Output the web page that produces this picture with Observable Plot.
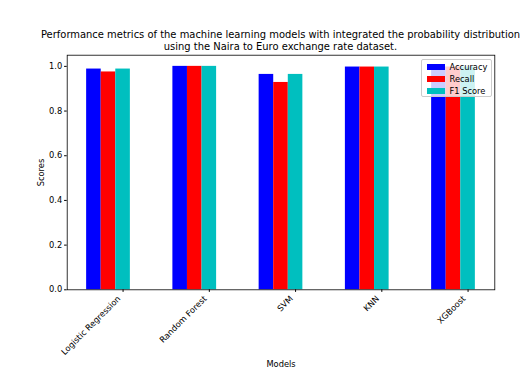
<!DOCTYPE html>
<html><head><meta charset="utf-8">
<script src="https://cdn.jsdelivr.net/npm/d3@7"></script>
<script src="https://cdn.jsdelivr.net/npm/@observablehq/plot@0.6"></script>
<style>
body{margin:0;background:#fff;font-family:"DejaVu Sans",sans-serif;}
#wrap{position:relative;width:529px;height:377px;overflow:hidden;}
#title{position:absolute;z-index:2;left:280.5px;top:28.5px;transform:translateX(-50%);text-align:center;white-space:nowrap;font-size:9.95px;line-height:12.2px;color:#000;}
#legend{position:absolute;z-index:3;left:421px;top:59px;width:71px;height:38px;background:rgba(255,255,255,0.8);border:0.8px solid #cccccc;border-radius:2px;box-sizing:border-box;font-size:8.3px;color:#000;}
.row{position:absolute;left:5px;height:10px;display:flex;align-items:center;}
.sw{width:18px;height:5.8px;margin-right:4.5px;}
svg{position:absolute;left:0;top:0;z-index:1;}
</style></head>
<body><div id="wrap"><div id="title"></div><div id="legend"></div></div>
<script>
const models = ["Logistic Regression", "Random Forest", "SVM", "KNN", "XGBoost"];
const metrics = ["Accuracy", "Recall", "F1 Score"];
const accuracy = [0.988, 1.000, 0.964, 0.997, 0.997];
const recall   = [0.975, 1.000, 0.928, 0.997, 0.997];
const f1score  = [0.988, 1.000, 0.964, 0.997, 0.997];
const colors = ["#0000ff", "#ff0000", "#00bfbf"];
const yTicks = [0, 0.2, 0.4, 0.6, 0.8, 1.0];
const titleLines = ["Performance metrics of the machine learning models with integrated the probability distribution", "using the Naira to Euro exchange rate dataset."];

const series = [accuracy, recall, f1score];
const w = 0.169; // bar width in group units
const rows = [];
models.forEach((m, i) => series.forEach((s, j) => {
  rows.push({model: m, metric: metrics[j], x1: i + (j - 2.5) * w, x2: i + (j - 1.5) * w, y: s[i]});
}));
const lo = -2.5 * w, hi = models.length - 1 + 0.5 * w, pad = 0.05 * (hi - lo);

const chart = Plot.plot({
  width: 529, height: 377,
  marginTop: 54.7, marginBottom: 87.7, marginLeft: 66.7, marginRight: 34.7,
  style: {fontFamily: "DejaVu Sans, sans-serif", fontSize: "8.3px", color: "#000", background: "transparent"},
  x: {type: "linear", domain: [lo - pad, hi + pad]},
  y: {domain: [0, 1.05]},
  color: {domain: metrics, range: colors},
  marks: [
    Plot.rectY(rows, {x1: "x1", x2: "x2", y1: 0, y2: "y", fill: "metric"}),
    Plot.axisY({ticks: yTicks, tickFormat: d3.format(".1f"), tickSize: 2.6, tickPadding: 2.4, label: "Scores", labelAnchor: "center", labelArrow: "none", labelOffset: 29, stroke: "#000"}),
    Plot.axisX({ticks: d3.range(models.length), tickSize: 2.6, tickFormat: () => "", stroke: "#000", label: null}),
    Plot.axisX({ticks: d3.range(models.length), tickFormat: i => models[i], tickRotate: -45, tickSize: 0, tickPadding: 5, dx: -4, dy: 2.5, label: null}),
    Plot.axisX({ticks: [], label: "Models", labelAnchor: "center", labelArrow: "none", labelOffset: 77, tickSize: 0}),
    Plot.frame({stroke: "#000", strokeWidth: 0.8})
  ]
});
document.getElementById("wrap").appendChild(chart);

const t = document.getElementById("title");
titleLines.forEach(l => { const d = document.createElement("div"); d.textContent = l; t.appendChild(d); });

const lg = document.getElementById("legend");
metrics.forEach((m, j) => {
  const r = document.createElement("div");
  r.className = "row";
  r.style.top = (2 + j * 12.2) + "px";
  const sw = document.createElement("div");
  sw.className = "sw"; sw.style.background = colors[j];
  const tx = document.createElement("span"); tx.textContent = m;
  r.appendChild(sw); r.appendChild(tx); lg.appendChild(r);
});
</script></body></html>
